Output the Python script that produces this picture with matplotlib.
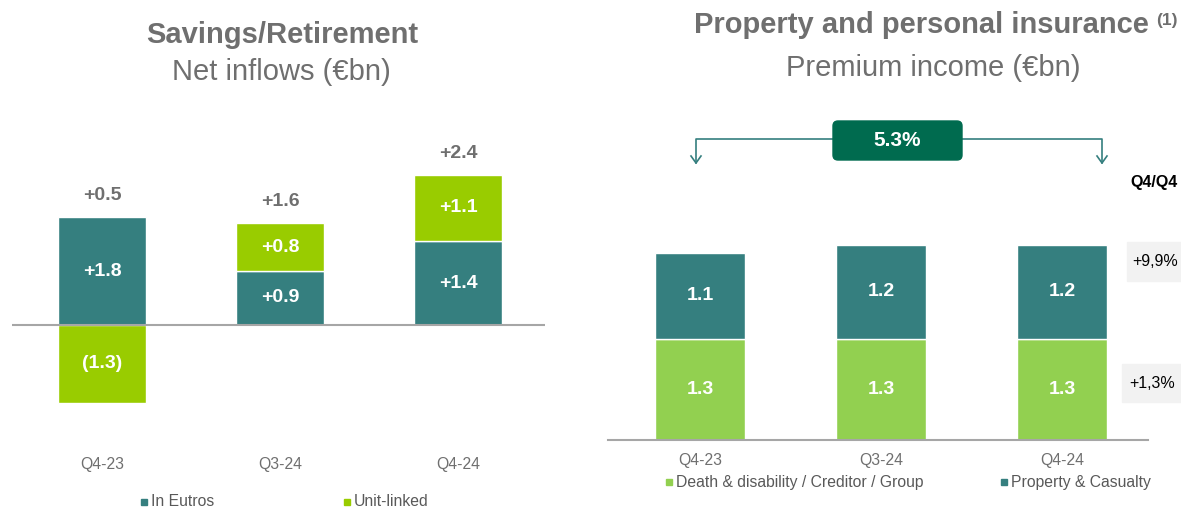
import matplotlib.pyplot as plt
from matplotlib.patches import Rectangle, FancyBboxPatch
from matplotlib.transforms import blended_transform_factory
import numpy as np

plt.rcParams['font.family'] = ['Liberation Sans', 'DejaVu Sans']

# Savings / Retirement - net inflows (EUR bn)
quarters = ["Q4-23", "Q3-24", "Q4-24"]
in_euros = [1.8, 0.9, 1.4]
unit_linked = [-1.3, 0.8, 1.1]
net_totals = ["+0.5", "+1.6", "+2.4"]

# Property and personal insurance - premium income (EUR bn)
death_disability = [1.3, 1.3, 1.3]
property_casualty = [1.1, 1.2, 1.2]
growth_total = "5.3%"
growth_pc = "+9,9%"
growth_dd = "+1,3%"

TEAL = "#357f7f"
LIME = "#99cc00"
GREEN = "#92d050"
DARK = "#006b4f"
GREY_T = "#6f6f6f"
GREY_L = "#a6a6a6"
SMALL = 11.3

W, H = 1181, 509
fig = plt.figure(figsize=(W / 100, H / 100), dpi=100)


def px_axes(x0, y0, x1, y1):
    return fig.add_axes([x0 / W, 1 - y1 / H, (x1 - x0) / W, (y1 - y0) / H])


def fmt(v):
    return "+%.1f" % v if v >= 0 else "(%.1f)" % abs(v)


# ---- left chart
x = np.arange(len(quarters))
ax1 = px_axes(12, 140, 545, 420)
ax1.set_xlim(-0.506, 2.489)
ax1.set_ylim(-95 / 60, 185 / 60)
ax1.axis('off')
ul_bottom = [e if u > 0 else 0 for e, u in zip(in_euros, unit_linked)]
ax1.bar(x, in_euros, width=0.494, color=TEAL, edgecolor='white', linewidth=1)
ax1.bar(x, unit_linked, width=0.494, bottom=ul_bottom, color=LIME,
        edgecolor='white', linewidth=1)
ax1.axhline(0, color=GREY_L, lw=1.5, zorder=3)
for i in range(len(quarters)):
    ax1.text(x[i], in_euros[i] / 2, fmt(in_euros[i]), ha='center', va='center',
             color='white', fontsize=14, fontweight='bold')
    ax1.text(x[i], ul_bottom[i] + unit_linked[i] / 2, fmt(unit_linked[i]),
             ha='center', va='center', color='white', fontsize=14, fontweight='bold')
    top = max(in_euros[i], ul_bottom[i] + unit_linked[i])
    ax1.text(x[i], top + 0.36, net_totals[i], ha='center', va='center',
             color=GREY_T, fontsize=14, fontweight='bold')
tr1 = blended_transform_factory(ax1.transData, fig.transFigure)
for i, q in enumerate(quarters):
    ax1.text(x[i], 1 - 465 / H, q, transform=tr1, ha='center', va='center',
             color=GREY_T, fontsize=SMALL)

# ---- right chart
ax2 = px_axes(608, 200, 1148, 440)
ax2.set_xlim(-0.508, 2.475)
ax2.set_ylim(0, 240 / 78)
ax2.axis('off')
ax2.bar(x, death_disability, width=0.497, color=GREEN, edgecolor='white', linewidth=1)
ax2.bar(x, property_casualty, width=0.497, bottom=death_disability, color=TEAL,
        edgecolor='white', linewidth=1)
ax2.axhline(0, color=GREY_L, lw=1.5, zorder=3, clip_on=False)
for i in range(len(quarters)):
    ax2.text(x[i], death_disability[i] / 2, "%.1f" % death_disability[i],
             ha='center', va='center', color='white', fontsize=14, fontweight='bold')
    ax2.text(x[i], death_disability[i] + property_casualty[i] / 2,
             "%.1f" % property_casualty[i], ha='center', va='center',
             color='white', fontsize=14, fontweight='bold')
tr2 = blended_transform_factory(ax2.transData, fig.transFigure)
for i, q in enumerate(quarters):
    ax2.text(x[i], 1 - 460 / H, q, transform=tr2, ha='center', va='center',
             color=GREY_T, fontsize=SMALL)

# ---- overlay for titles, legends, annotations (pixel coords)
ov = fig.add_axes([0, 0, 1, 1])
ov.set_xlim(0, W)
ov.set_ylim(H, 0)
ov.axis('off')

ov.text(282, 35, "Savings/Retirement", ha='center', va='center', fontsize=21,
        fontweight='bold', color=GREY_T)
ov.text(281, 72, "Net inflows (€bn)", ha='center', va='center', fontsize=21,
        color=GREY_T)
ov.text(921, 25, "Property and personal insurance", ha='center', va='center',
        fontsize=21, fontweight='bold', color=GREY_T)
ov.text(1167, 20, "(1)", ha='center', va='center', fontsize=12.5,
        fontweight='bold', color=GREY_T)
ov.text(933, 68, "Premium income (€bn)", ha='center', va='center', fontsize=21,
        color=GREY_T)


# legends
def legend_item(x0, y, color, label):
    ov.add_patch(Rectangle((x0, y - 3), 6, 6, color=color))
    ov.text(x0 + 10, y, label, ha='left', va='center', fontsize=SMALL, color='#595959')


legend_item(141, 502, TEAL, "In Eutros")
legend_item(344, 502, LIME, "Unit-linked")
legend_item(666, 482, GREEN, "Death & disability / Creditor / Group")
legend_item(1001, 482, TEAL, "Property & Casualty")

# growth bracket
ov.plot([696, 696, 1102, 1102], [163, 139, 139, 163], color=TEAL, lw=1.2)
for ax_ in (696, 1102):
    ov.plot([ax_ - 5, ax_, ax_ + 5], [156, 163, 156], color=TEAL, lw=1.2)
ov.add_patch(FancyBboxPatch((836, 124), 123, 33, boxstyle="round,pad=3,rounding_size=5",
                            color=DARK, zorder=3))
ov.text(897, 141, growth_total, ha='center', va='center', color='white',
        fontsize=15, fontweight='bold', zorder=4)

ov.text(1154, 182, "Q4/Q4", ha='center', va='center', fontsize=11.5, fontweight='bold',
        color='black')
ov.add_patch(Rectangle((1127, 242), 54, 39, color='#f2f2f2'))
ov.text(1155, 262, growth_pc, ha='center', va='center', fontsize=11.5, color='black')
ov.add_patch(Rectangle((1122, 364), 59, 38, color='#f2f2f2'))
ov.text(1152, 383, growth_dd, ha='center', va='center', fontsize=11.5, color='black')

fig.savefig("out.png", dpi=100)
